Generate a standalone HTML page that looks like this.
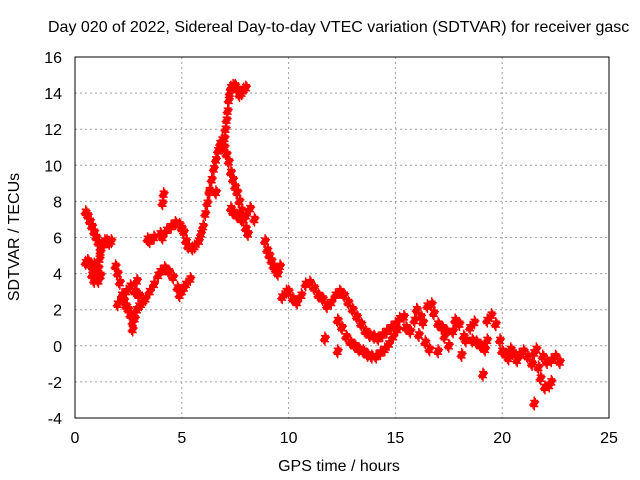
<!DOCTYPE html>
<html><head><meta charset="utf-8"><style>
body{margin:0;background:#fff}
svg{display:block;font-family:"Liberation Sans",sans-serif}
</style></head><body>
<svg id="chart" width="640" height="480">
<rect width="640" height="480" fill="#fff"/>
<text x="48" y="32" font-size="16">Day 020 of 2022, Sidereal Day-to-day VTEC variation (SDTVAR) for receiver gasc</text>
<text x="339" y="471" font-size="16" text-anchor="middle">GPS time / hours</text>
<text transform="translate(19,237) rotate(-90)" font-size="16" text-anchor="middle">SDTVAR / TECUs</text>
<g id="grid"></g><g id="pts"></g>
<rect x="75" y="57" width="534" height="361" fill="none" stroke="#000"/>
</svg>
<script>
const xTicks=[0,5,10,15,20,25];
const yTicks=[-4,-2,0,2,4,6,8,10,12,14,16];
const trackA_t=[0.5,0.6,0.7,0.8,0.9,1.0,1.1,1.2,1.15,1.1,1.0,0.9,0.8,1.2,1.3,1.4,1.5,1.6,1.7,0.5,0.6,0.7,0.8,0.9,1.0,1.1,1.2];
const trackA_v=[7.4,7.2,6.9,6.6,6.3,6.0,5.7,5.4,4.8,4.3,4.0,3.6,3.9,5.2,5.6,5.8,5.8,5.7,5.8,4.6,4.7,4.5,4.4,4.5,4.2,3.6,3.9];
const trackB_t=[1.9,2.0,2.1,2.2,2.3,2.4,2.5,2.6,2.7,2.8,2.9,3.0,3.1,3.2,3.3,3.5,3.7,3.9,4.0,4.2,4.4,4.6,4.8,4.9,5.0,5.1,5.2,5.4,2.0,2.2,2.4,2.6,2.8,3.0,2.9,2.7];
const trackB_v=[4.4,4.0,3.5,2.8,2.5,2.2,2.0,1.7,1.3,1.5,2.0,2.2,2.3,2.5,2.6,3.0,3.4,3.9,4.1,4.3,4.1,3.8,3.2,2.8,3.0,3.2,3.4,3.7,2.3,2.6,3.0,3.3,3.0,2.8,3.6,0.9];
const trackC_t=[3.4,3.5,3.7,4.0,4.1,4.3,4.5,4.7,4.9,5.0,5.1,5.2,5.3,5.5,5.6,5.8,5.9,6.0,6.1,6.2,6.3,6.4,6.5,6.6,6.7,6.8,6.9,7.0,7.05,7.1,7.15,7.2,7.25,7.3,7.4,7.5,7.6,7.7,7.8,7.9,8.0,4.1,4.15];
const trackC_v=[5.9,5.8,6.0,6.2,6.0,6.4,6.6,6.8,6.7,6.5,6.3,5.8,5.5,5.4,5.5,5.8,6.2,6.6,7.3,7.9,8.5,9.2,9.8,10.3,10.8,11.2,11.0,11.5,12.0,12.5,13.0,13.6,14.0,14.3,14.4,14.4,14.2,13.9,14.0,14.2,14.3,7.9,8.4];
const trackD_t=[6.9,7.0,7.1,7.2,7.3,7.4,7.5,7.6,7.7,7.8,7.9,8.0,8.1,7.3,7.4,7.6,7.8,8.0,8.2,8.4,8.9,9.0,9.1,9.2,9.3,9.4,9.5,9.6,9.7,9.9,6.3,6.6];
const trackD_v=[11.4,11.0,10.6,10.2,9.6,9.2,8.8,8.5,8.0,7.5,7.0,6.5,6.2,7.6,7.4,7.2,7.0,7.2,7.6,7.0,5.8,5.3,5.0,4.7,4.4,4.2,4.0,4.4,2.7,3.0,8.6,8.5];
const trackE_t=[10.0,10.2,10.4,10.6,10.8,11.0,11.2,11.4,11.6,11.8,12.0,12.2,12.4,12.6,12.8,13.0,13.2,13.4,13.6,13.8,14.0,14.2,14.4,14.6,14.8,15.0,15.2,15.4,12.3,12.5,12.7,12.9,13.1,13.3,13.5,13.7,13.9,14.1,14.3,14.5,14.7,14.9,15.1,11.7,12.3];
const trackE_v=[3.0,2.6,2.4,2.8,3.4,3.5,3.2,2.8,2.6,2.2,2.4,2.8,3.0,2.8,2.4,2.0,1.6,1.2,0.8,0.6,0.5,0.4,0.6,0.8,1.0,1.2,1.5,1.6,1.4,1.0,0.5,0.2,0.0,-0.2,-0.3,-0.5,-0.6,-0.6,-0.4,-0.2,0.1,0.5,0.9,0.4,-0.3];
const trackF_t=[15.5,15.7,15.9,16.0,16.2,16.3,16.5,16.7,16.8,17.0,17.2,17.3,17.5,17.7,17.8,18.0,18.2,18.3,18.5,18.7,18.8,19.0,19.2,19.3,19.5,19.7,19.9,20.0,20.2,20.4,20.5,20.7,20.8,21.0,21.2,21.4,21.5,21.6,21.7,21.8,22.0,22.2,22.3,21.9,22.1,22.3,22.5,22.7,21.5,16.1,16.4,16.6,17.0,17.4,18.1,18.6,19.1,19.3,20.3];
const trackF_v=[1.0,0.8,1.4,2.0,1.6,1.3,2.2,2.3,1.8,1.2,1.0,0.5,0.0,0.8,1.4,1.2,0.5,0.3,1.0,1.3,0.2,0.0,-0.2,1.4,1.7,1.2,0.3,-0.3,-0.5,-0.2,-0.4,-0.8,-0.5,-0.3,-0.6,-1.0,-0.4,-0.2,-1.2,-1.8,-2.3,-2.2,-2.0,-0.6,-0.9,-0.8,-0.6,-0.9,-3.2,0.6,0.2,-0.2,-0.3,0.8,-0.5,0.3,-1.6,0.3,-0.7];
const sx=t=>75+t*(534/25), sy=v=>418-(v+4)*(361/20);
const NS="http://www.w3.org/2000/svg";
const grid=document.getElementById('grid'),pts=document.getElementById('pts');
function mk(tag,at,parent){const e=document.createElementNS(NS,tag);for(const k in at)e.setAttribute(k,at[k]);parent.appendChild(e);return e;}
xTicks.forEach(t=>{const x=sx(t);
 if(t>0&&t<25){const l=mk('line',{x1:x,x2:x,y1:57,y2:418,stroke:'#a0a0a0','stroke-dasharray':'2,3'},grid);
 
 }
 const tx=mk('text',{x:x,y:443,'font-size':16,'text-anchor':'middle'},grid);tx.textContent=t;
 
 });
yTicks.forEach(v=>{const y=sy(v);
 if(v>-4&&v<16){const l=mk('line',{x1:75,x2:609,y1:y,y2:y,stroke:'#a0a0a0','stroke-dasharray':'2,3'},grid);
 
 }
 const tx=mk('text',{x:62,y:y+6,'font-size':16,'text-anchor':'end'},grid);tx.textContent=v;
 
 });
const offs=[[0,0],[0,-3],[0,3],[-1,1.5],[1,-1.5]];
[[trackA_t,trackA_v],[trackB_t,trackB_v],[trackC_t,trackC_v],[trackD_t,trackD_v],[trackE_t,trackE_v],[trackF_t,trackF_v]].forEach(([ts,vs])=>{
 ts.forEach((t,i)=>{const x0=sx(t),y0=sy(vs[i]);
  let d='';offs.forEach(([dx,dy])=>{const x=x0+dx,y=y0+dy;d+=`M${x-4},${y}h8M${x},${y-4}v8`;});
  const p=mk('path',{d:d,stroke:'#f00','stroke-width':1.5,fill:'none'},pts);
  
  
 });});
</script>
</body></html>
